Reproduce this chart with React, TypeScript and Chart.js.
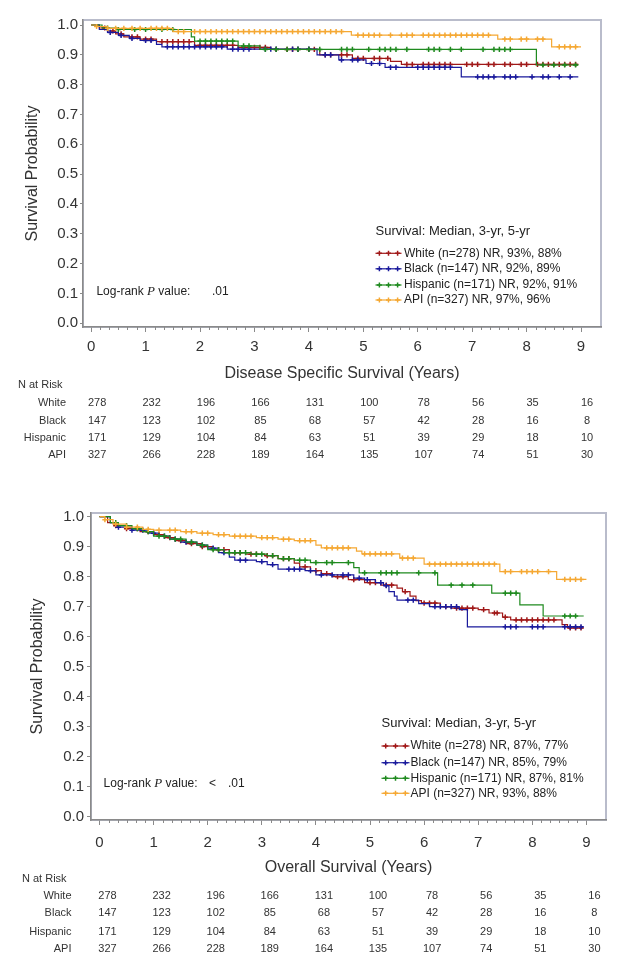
import React, { useEffect, useRef } from "react";
import { Chart, registerables } from "chart.js";
Chart.register(...registerables);

type Step = [number, number];

// ---------- data ----------
const groups = ["White", "Black", "Hispanic", "API"];
const groupColors = ["#a01818", "#1a1a9c", "#1f8a1f", "#f5a833"];
const riskTimes = [0, 1, 2, 3, 4, 5, 6, 7, 8, 9];
const xTickValues = [0, 1, 2, 3, 4, 5, 6, 7, 8, 9];
const yTickValues = [0, 0.1, 0.2, 0.3, 0.4, 0.5, 0.6, 0.7, 0.8, 0.9, 1.0];

const riskWhite = [278, 232, 196, 166, 131, 100, 78, 56, 35, 16];
const riskBlack = [147, 123, 102, 85, 68, 57, 42, 28, 16, 8];
const riskHispanic = [171, 129, 104, 84, 63, 51, 39, 29, 18, 10];
const riskAPI = [327, 266, 228, 189, 164, 135, 107, 74, 51, 30];

// Disease specific survival (KM steps: [time, survival])
const dssWhite: Step[] = [[0, 1], [0.15, 0.99], [0.3, 0.98], [0.45, 0.97], [0.6, 0.96], [0.9, 0.953], [1.2, 0.944], [1.9, 0.932], [2.7, 0.925], [3.3, 0.918], [4.2, 0.9], [4.8, 0.888], [5.5, 0.878], [5.7, 0.868], [8.95, 0.868]];
const dssBlack: Step[] = [[0, 1], [0.15, 0.985], [0.3, 0.975], [0.5, 0.965], [0.7, 0.955], [0.9, 0.948], [1.2, 0.935], [1.3, 0.927], [2.5, 0.919], [4.15, 0.9], [4.55, 0.883], [5.05, 0.871], [5.4, 0.858], [6.8, 0.826], [8.95, 0.826]];
const dssHispanic: Step[] = [[0, 1], [0.2, 0.99], [0.5, 0.985], [1.84, 0.96], [1.9, 0.946], [2.7, 0.93], [3.1, 0.918], [8.18, 0.866], [8.95, 0.866]];
const dssAPI: Step[] = [[0, 1], [0.1, 0.995], [0.3, 0.989], [1.5, 0.978], [4.78, 0.966], [7.47, 0.953], [8.46, 0.927], [9.0, 0.927]];

const dssWhiteCens = [0.25, 0.4, 0.55, 0.75, 0.85, 1.0, 1.1, 1.3, 1.4, 1.5, 1.6, 1.7, 1.8, 2.0, 2.1, 2.2, 2.3, 2.4, 2.5, 2.6, 2.8, 2.9, 3.0, 3.1, 3.2, 3.4, 3.6, 3.7, 3.8, 4.0, 4.1, 4.3, 4.4, 4.6, 4.7, 4.9, 5.0, 5.2, 5.3, 5.45, 5.8, 5.9, 6.1, 6.2, 6.3, 6.4, 6.5, 6.6, 6.9, 7.0, 7.1, 7.3, 7.4, 7.6, 7.7, 7.9, 8.0, 8.2, 8.3, 8.4, 8.5, 8.6, 8.7, 8.8, 8.9];
const dssBlackCens = [0.35, 0.55, 0.75, 1.0, 1.1, 1.4, 1.5, 1.6, 1.7, 1.8, 1.9, 2.0, 2.1, 2.2, 2.3, 2.4, 2.6, 2.7, 2.8, 2.9, 3.2, 3.3, 3.4, 3.7, 3.8, 4.0, 4.3, 4.4, 4.6, 4.8, 4.9, 5.15, 5.3, 5.5, 5.6, 6.0, 6.1, 6.2, 6.3, 6.4, 6.5, 6.6, 7.1, 7.2, 7.3, 7.4, 7.6, 7.7, 7.8, 8.1, 8.3, 8.4, 8.6, 8.8];
const dssHispanicCens = [0.3, 0.5, 0.8, 1.0, 1.3, 1.5, 2.0, 2.1, 2.2, 2.3, 2.4, 2.5, 2.6, 2.8, 2.9, 3.2, 3.4, 3.6, 3.8, 4.0, 4.2, 4.6, 4.7, 4.8, 5.1, 5.3, 5.4, 5.5, 5.6, 5.8, 6.2, 6.3, 6.4, 6.6, 6.8, 7.2, 7.4, 7.5, 7.6, 7.7, 8.3, 8.5, 8.7, 8.9];
const dssAPICens = [0.1, 0.3, 0.45, 0.6, 0.75, 0.9, 1.1, 1.2, 1.3, 1.4, 1.6, 1.7, 1.9, 2.0, 2.1, 2.2, 2.3, 2.4, 2.5, 2.6, 2.7, 2.8, 2.9, 3.0, 3.1, 3.2, 3.3, 3.4, 3.5, 3.6, 3.7, 3.8, 3.9, 4.0, 4.1, 4.2, 4.3, 4.4, 4.5, 4.6, 4.9, 5.0, 5.1, 5.2, 5.3, 5.5, 5.7, 5.8, 5.9, 6.1, 6.2, 6.3, 6.4, 6.5, 6.6, 6.7, 6.8, 6.9, 7.0, 7.1, 7.2, 7.3, 7.6, 7.7, 7.9, 8.0, 8.2, 8.3, 8.6, 8.7, 8.8, 8.9];

// Overall survival
const osWhite: Step[] = [[0, 1], [0.15, 0.98], [0.3, 0.97], [0.5, 0.96], [0.75, 0.95], [1.0, 0.94], [1.2, 0.93], [1.4, 0.92], [1.6, 0.91], [1.9, 0.9], [2.1, 0.89], [2.4, 0.88], [2.7, 0.875], [3.05, 0.87], [3.3, 0.86], [3.6, 0.845], [3.7, 0.833], [3.9, 0.82], [4.1, 0.81], [4.3, 0.8], [4.6, 0.79], [4.9, 0.78], [5.2, 0.772], [5.5, 0.762], [5.6, 0.75], [5.74, 0.735], [5.85, 0.72], [5.95, 0.712], [6.3, 0.7], [6.5, 0.695], [7.0, 0.69], [7.2, 0.679], [7.45, 0.665], [7.6, 0.656], [8.55, 0.64], [8.65, 0.629], [8.95, 0.629]];
const osBlack: Step[] = [[0, 1], [0.2, 0.98], [0.3, 0.965], [0.6, 0.955], [0.9, 0.945], [1.1, 0.935], [1.3, 0.925], [1.5, 0.915], [1.8, 0.905], [2.0, 0.895], [2.2, 0.88], [2.4, 0.865], [2.5, 0.855], [2.9, 0.85], [3.1, 0.84], [3.3, 0.825], [3.8, 0.82], [4.0, 0.806], [4.7, 0.795], [4.9, 0.79], [5.1, 0.78], [5.25, 0.77], [5.35, 0.75], [5.45, 0.735], [5.5, 0.722], [5.9, 0.71], [6.1, 0.7], [6.65, 0.69], [6.8, 0.633], [8.95, 0.633]];
const osHispanic: Step[] = [[0, 1], [0.2, 0.98], [0.35, 0.97], [0.6, 0.96], [0.8, 0.95], [1.0, 0.935], [1.3, 0.925], [1.6, 0.915], [1.8, 0.905], [2.0, 0.89], [2.3, 0.88], [2.8, 0.875], [3.1, 0.87], [3.3, 0.86], [3.6, 0.855], [3.9, 0.847], [4.7, 0.83], [4.8, 0.813], [6.25, 0.772], [7.25, 0.745], [7.77, 0.706], [8.2, 0.669], [8.95, 0.669]];
const osAPI: Step[] = [[0, 1], [0.1, 0.99], [0.25, 0.975], [0.5, 0.965], [0.8, 0.958], [1.0, 0.955], [1.5, 0.95], [1.8, 0.945], [2.1, 0.94], [2.4, 0.935], [2.9, 0.93], [3.3, 0.925], [3.6, 0.92], [4.0, 0.905], [4.1, 0.896], [4.75, 0.885], [4.85, 0.876], [5.55, 0.862], [6.0, 0.842], [7.4, 0.817], [8.45, 0.791], [9.0, 0.791]];

const osWhiteCens = [0.3, 0.5, 0.7, 0.9, 1.1, 1.3, 1.5, 1.7, 1.9, 2.2, 2.3, 2.5, 2.6, 2.8, 2.9, 3.1, 3.2, 3.4, 3.5, 3.8, 4.0, 4.2, 4.4, 4.5, 4.7, 5.0, 5.1, 5.3, 5.4, 5.65, 6.0, 6.1, 6.2, 6.4, 6.6, 6.7, 6.8, 6.9, 7.1, 7.3, 7.35, 7.5, 7.7, 7.8, 7.9, 8.0, 8.1, 8.2, 8.3, 8.4, 8.7, 8.8, 8.9];
const osBlackCens = [0.35, 0.6, 0.8, 1.0, 1.2, 1.4, 1.6, 1.7, 1.9, 2.1, 2.3, 2.6, 2.7, 3.0, 3.2, 3.5, 3.6, 3.7, 3.9, 4.1, 4.3, 4.5, 4.6, 4.8, 4.95, 5.2, 5.3, 5.7, 5.8, 6.2, 6.3, 6.4, 6.5, 6.6, 7.5, 7.6, 7.7, 8.0, 8.1, 8.2, 8.6, 8.7, 8.8, 8.9];
const osHispanicCens = [0.3, 0.5, 0.7, 0.9, 1.1, 1.2, 1.4, 1.5, 1.7, 1.9, 2.1, 2.2, 2.4, 2.5, 2.6, 2.7, 2.9, 3.0, 3.2, 3.4, 3.5, 3.7, 3.8, 4.0, 4.2, 4.3, 4.6, 4.9, 5.2, 5.3, 5.4, 5.5, 5.9, 6.2, 6.5, 6.7, 6.9, 7.5, 7.6, 7.7, 8.6, 8.7, 8.8];
const osAPICens = [0.1, 0.3, 0.5, 0.7, 0.9, 1.1, 1.3, 1.4, 1.6, 1.7, 1.9, 2.0, 2.2, 2.3, 2.5, 2.6, 2.7, 2.8, 3.0, 3.1, 3.2, 3.4, 3.5, 3.7, 3.8, 3.9, 4.2, 4.3, 4.4, 4.5, 4.6, 4.9, 5.0, 5.1, 5.2, 5.3, 5.4, 5.6, 5.7, 5.8, 6.1, 6.2, 6.3, 6.4, 6.5, 6.6, 6.7, 6.8, 6.9, 7.0, 7.1, 7.2, 7.3, 7.5, 7.6, 7.8, 7.9, 8.0, 8.1, 8.3, 8.6, 8.7, 8.8, 8.9];

const dssLegend = ["White (n=278) NR, 93%, 88%", "Black (n=147) NR, 92%, 89%", "Hispanic (n=171) NR, 92%, 91%", "API (n=327) NR, 97%, 96%"];
const osLegend = ["White (n=278) NR, 87%, 77%", "Black (n=147) NR, 85%, 79%", "Hispanic (n=171) NR, 87%, 81%", "API (n=327) NR, 93%, 88%"];

// ---------- helpers ----------
const FONT = '"Liberation Sans", Arial, Helvetica, sans-serif';

function survAt(steps: Step[], t: number) {
  let s = 1;
  for (const [tt, v] of steps) if (tt <= t) s = v;
  return s;
}

interface PanelSpec {
  top: number;
  height: number;
  area: { l: number; t: number; r: number; b: number };
  xMin: number; xMax: number; yMin: number; yMax: number;
  yTickLen: number; yTickPad: number;
  xTickPad: number;
  yTitleX: number;
  xTitle: string;
  xTitleY: number;
  nRiskX: number; nRiskY: number;
  rowLabelRight: number; rowYs: number[]; numOffset: number;
  legTitleX: number; legTitleY: number; legMarkX1: number; legMarkX2: number; legTextX: number; legRowYs: number[];
  legLabels: string[];
  logX: number; logY: number; logLess: boolean; lessX: number; valX: number;
  steps: Step[][];
  cens: number[][];
}

function drawCross(ctx: CanvasRenderingContext2D, x: number, y: number, r: number) {
  ctx.beginPath();
  ctx.moveTo(x - r, y); ctx.lineTo(x + r, y);
  ctx.moveTo(x, y - r); ctx.lineTo(x, y + r);
  ctx.stroke();
}

function makePlugin(spec: PanelSpec) {
  return {
    id: "panelDecor",
    beforeDraw(chart: any) {
      const { ctx, chartArea: a } = chart;
      ctx.save();
      ctx.strokeStyle = "#b9bccb";
      ctx.lineWidth = 2;
      ctx.strokeRect(a.left, a.top, a.right - a.left, a.bottom - a.top);
      ctx.restore();
    },
    afterDraw(chart: any) {
      const { ctx, chartArea: a, scales } = chart;
      const xs = scales.x;
      ctx.save();
      // minor ticks
      ctx.strokeStyle = "#8a8a8a";
      ctx.lineWidth = 1;
      for (let i = 1; i < 54; i++) {
        if (i % 6 === 0) continue;
        const px = Math.round(xs.getPixelForValue(i / 6)) + 0.5;
        ctx.beginPath();
        ctx.moveTo(px, a.bottom);
        ctx.lineTo(px, a.bottom + 3);
        ctx.stroke();
      }
      // y title
      ctx.fillStyle = "#333";
      ctx.font = `16px ${FONT}`;
      ctx.textAlign = "center";
      ctx.textBaseline = "middle";
      ctx.save();
      ctx.translate(spec.yTitleX, (a.top + a.bottom) / 2);
      ctx.rotate(-Math.PI / 2);
      ctx.fillText("Survival Probability", 0, 0);
      ctx.restore();
      // x title
      ctx.fillText(spec.xTitle, (a.left + a.right) / 2, spec.xTitleY);
      // N at risk table
      ctx.font = `11px ${FONT}`;
      ctx.textAlign = "left";
      ctx.fillStyle = "#333";
      ctx.fillText("N at Risk", spec.nRiskX, spec.nRiskY);
      const risks = [riskWhite, riskBlack, riskHispanic, riskAPI];
      groups.forEach((g, gi) => {
        const y = spec.rowYs[gi];
        ctx.textAlign = "right";
        ctx.fillText(g, spec.rowLabelRight, y);
        ctx.textAlign = "center";
        riskTimes.forEach((t, ti) => {
          ctx.fillText(String(risks[gi][ti]), xs.getPixelForValue(t) + spec.numOffset, y);
        });
      });
      // legend
      ctx.textAlign = "left";
      ctx.fillStyle = "#222";
      ctx.font = `13px ${FONT}`;
      ctx.fillText("Survival: Median, 3-yr, 5-yr", spec.legTitleX, spec.legTitleY);
      ctx.font = `12px ${FONT}`;
      spec.legLabels.forEach((lab, gi) => {
        const y = spec.legRowYs[gi];
        ctx.strokeStyle = groupColors[gi];
        ctx.lineWidth = 1.2;
        ctx.beginPath();
        ctx.moveTo(spec.legMarkX1, y);
        ctx.lineTo(spec.legMarkX2, y);
        ctx.stroke();
        ctx.lineWidth = 1.5;
        const w = spec.legMarkX2 - spec.legMarkX1;
        [0.15, 0.5, 0.85].forEach((f) => drawCross(ctx, spec.legMarkX1 + w * f, y, 2.5));
        ctx.fillStyle = "#222";
        ctx.fillText(lab, spec.legTextX, y);
      });
      // log-rank
      ctx.font = `12px ${FONT}`;
      let x = spec.logX;
      ctx.fillText("Log-rank ", x, spec.logY);
      x += ctx.measureText("Log-rank ").width;
      ctx.font = `italic 13px "Liberation Serif", "Times New Roman", serif`;
      ctx.fillText("P", x, spec.logY);
      x += ctx.measureText("P").width;
      ctx.font = `12px ${FONT}`;
      ctx.fillText(" value:", x, spec.logY);
      if (spec.logLess) ctx.fillText("<", spec.lessX, spec.logY);
      ctx.fillText(".01", spec.valX, spec.logY);
      ctx.restore();
    },
  };
}

function buildConfig(spec: PanelSpec) {
  const datasets: any[] = [];
  spec.steps.forEach((steps, gi) => {
    datasets.push({
      label: groups[gi],
      data: steps.map(([x, y]) => ({ x, y })),
      borderColor: groupColors[gi],
      backgroundColor: groupColors[gi],
      borderWidth: 1.2,
      stepped: "before",
      pointRadius: 0,
      fill: false,
      order: 10 - gi,
    });
    datasets.push({
      label: groups[gi] + " censored",
      data: spec.cens[gi].map((t) => ({ x: t, y: survAt(steps, t) })),
      showLine: false,
      pointStyle: "cross",
      pointRadius: 2.6,
      pointBorderWidth: 1.5,
      borderColor: groupColors[gi],
      backgroundColor: groupColors[gi],
      order: 10 - gi,
    });
  });
  const canvasW = 629;
  return {
    type: "line",
    data: { datasets },
    options: {
      animation: false,
      responsive: false,
      maintainAspectRatio: false,
      layout: {
        padding: { top: spec.area.t, right: canvasW - spec.area.r, left: 0, bottom: 0 },
      },
      plugins: { legend: { display: false }, tooltip: { enabled: false }, title: { display: false } },
      scales: {
        x: {
          type: "linear",
          min: spec.xMin,
          max: spec.xMax,
          afterBuildTicks: (s: any) => { s.ticks = xTickValues.map((v) => ({ value: v })); },
          afterFit: (s: any) => { s.height = spec.height - spec.area.b; },
          ticks: { font: { size: 15, family: FONT }, color: "#333", padding: spec.xTickPad, maxRotation: 0, autoSkip: false, callback: (v: any) => String(v) },
          grid: { display: true, drawOnChartArea: false, drawTicks: true, tickLength: 5, color: "#8a8a8a" },
          border: { display: true, color: "#8a8a8a", width: 1.5 },
        },
        y: {
          type: "linear",
          min: spec.yMin,
          max: spec.yMax,
          afterBuildTicks: (s: any) => { s.ticks = yTickValues.map((v) => ({ value: v })); },
          afterFit: (s: any) => { s.width = spec.area.l; },
          ticks: { font: { size: 15, family: FONT }, color: "#333", padding: spec.yTickPad, autoSkip: false, callback: (v: any) => Number(v).toFixed(1) },
          grid: { display: true, drawOnChartArea: false, drawTicks: true, tickLength: spec.yTickLen, color: "#8a8a8a" },
          border: { display: true, color: "#8a8a8a", width: 1.5 },
        },
      },
    },
    plugins: [makePlugin(spec)],
  };
}

const panel1: PanelSpec = {
  top: 0, height: 470,
  area: { l: 83, t: 20, r: 601, b: 327 },
  xMin: -0.15, xMax: 9.367, yMin: -0.0124, yMax: 1.0168,
  yTickLen: 3, yTickPad: 2, xTickPad: 6,
  yTitleX: 33,
  xTitle: "Disease Specific Survival (Years)", xTitleY: 374,
  nRiskX: 18, nRiskY: 385,
  rowLabelRight: 66, rowYs: [403, 420.7, 438.3, 455], numOffset: 6,
  legTitleX: 375.5, legTitleY: 231, legMarkX1: 375.5, legMarkX2: 401.5, legTextX: 404, legRowYs: [253.3, 268.8, 285, 300],
  legLabels: dssLegend,
  logX: 96.4, logY: 291.7, logLess: false, lessX: 0, valX: 212,
  steps: [dssWhite, dssBlack, dssHispanic, dssAPI],
  cens: [dssWhiteCens, dssBlackCens, dssHispanicCens, dssAPICens],
};

const panel2: PanelSpec = {
  top: 470, height: 494,
  area: { l: 91, t: 43, r: 606, b: 350 },
  xMin: -0.157, xMax: 9.362, yMin: -0.011, yMax: 1.0123,
  yTickLen: 4, yTickPad: 3, xTickPad: 9,
  yTitleX: 38,
  xTitle: "Overall Survival (Years)", xTitleY: 398,
  nRiskX: 22, nRiskY: 409,
  rowLabelRight: 71.5, rowYs: [426, 443, 461.7, 479.3], numOffset: 8,
  legTitleX: 381.5, legTitleY: 253.3, legMarkX1: 381.5, legMarkX2: 409.5, legTextX: 410.5, legRowYs: [276, 292.7, 308.3, 323.3],
  legLabels: osLegend,
  logX: 103.6, logY: 313.3, logLess: true, lessX: 209, valX: 228,
  steps: [osWhite, osBlack, osHispanic, osAPI],
  cens: [osWhiteCens, osBlackCens, osHispanicCens, osAPICens],
};

function Panel({ spec }: { spec: PanelSpec }) {
  const ref = useRef<HTMLCanvasElement | null>(null);
  useEffect(() => {
    if (!ref.current) return;
    const chart = new Chart(ref.current, buildConfig(spec) as any);
    return () => chart.destroy();
  }, [spec]);
  return (
    <canvas
      ref={ref}
      width={629}
      height={spec.height}
      style={{ position: "absolute", left: 0, top: spec.top, width: 629, height: spec.height }}
    />
  );
}

export default function App() {
  return (
    <div style={{ position: "absolute", left: 0, top: 0, width: 629, height: 964, background: "#ffffff", overflow: "hidden" }}>
      <Panel spec={panel1} />
      <Panel spec={panel2} />
    </div>
  );
}
